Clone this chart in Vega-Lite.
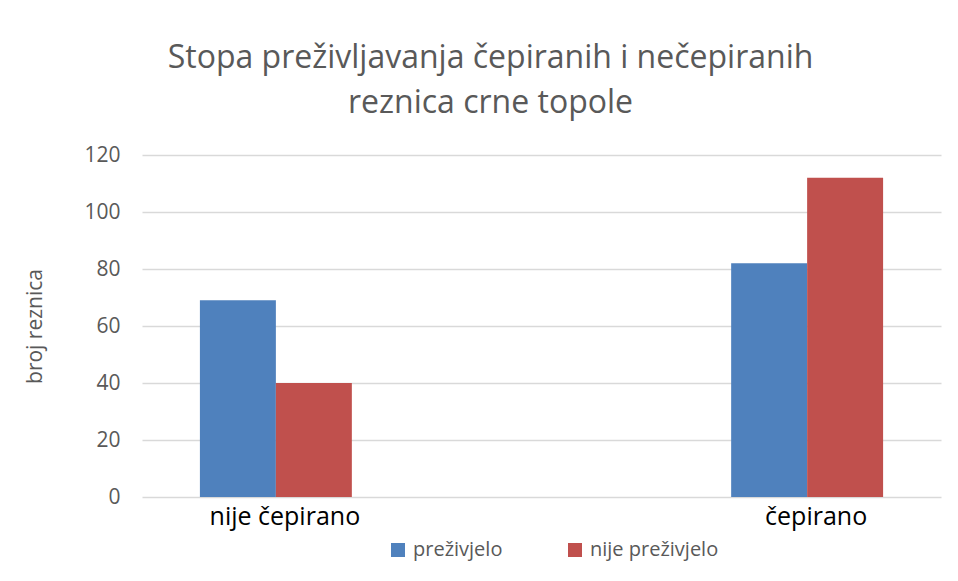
{
  "$schema": "https://vega.github.io/schema/vega-lite/v6.json",
  "autosize": {"type": "none"},
  "width": 799,
  "height": 342,
  "padding": {"left": 142, "top": 155, "right": 17, "bottom": 84},
  "background": "white",
  "title": {
    "text": ["Stopa preživljavanja čepiranih i nečepiranih", "reznica crne topole"],
    "anchor": "middle",
    "frame": "group",
    "dx": -51,
    "offset": 24,
    "font": "Open Sans",
    "fontSize": 32,
    "fontWeight": "normal",
    "color": "#595959",
    "lineHeight": 45
  },
  "data": {
    "values": [
      {"kategorija": "nije čepirano", "status": "preživjelo", "broj": 69},
      {"kategorija": "nije čepirano", "status": "nije preživjelo", "broj": 40},
      {"kategorija": "čepirano", "status": "preživjelo", "broj": 82},
      {"kategorija": "čepirano", "status": "nije preživjelo", "broj": 112}
    ]
  },
  "mark": {"type": "bar"},
  "encoding": {
    "x": {
      "field": "kategorija",
      "type": "nominal",
      "sort": ["nije čepirano", "čepirano"],
      "scale": {"paddingInner": 0.714, "paddingOuter": 0.109},
      "axis": {
        "title": null,
        "domain": false,
        "ticks": false,
        "labelAngle": 0,
        "labelFont": "Open Sans",
        "labelFontSize": 25,
        "labelColor": "#000000",
        "labelPadding": 7,
        "labelOffset": 9
      }
    },
    "xOffset": {
      "field": "status",
      "type": "nominal",
      "sort": ["preživjelo", "nije preživjelo"],
      "scale": {"paddingInner": 0, "paddingOuter": 0}
    },
    "y": {
      "field": "broj",
      "type": "quantitative",
      "scale": {"domain": [0, 120]},
      "axis": {
        "title": "broj reznica",
        "titleFont": "Open Sans",
        "titleFontSize": 21,
        "titleFontWeight": "normal",
        "titleColor": "#595959",
        "titlePadding": 38,
        "values": [0, 20, 40, 60, 80, 100, 120],
        "domain": false,
        "ticks": false,
        "labelFont": "Open Sans",
        "labelFontSize": 21,
        "labelColor": "#595959",
        "labelPadding": 22,
        "grid": true,
        "gridColor": "#d9d9d9",
        "gridWidth": 1.3
      }
    },
    "color": {
      "field": "status",
      "type": "nominal",
      "scale": {"domain": ["preživjelo", "nije preživjelo"], "range": ["#4f81bd", "#c0504d"]},
      "legend": {
        "title": null,
        "orient": "none",
        "direction": "horizontal",
        "legendX": 246,
        "legendY": 385,
        "symbolType": "square",
        "symbolSize": 196,
        "symbolStrokeWidth": 0,
        "labelFont": "Open Sans",
        "labelFontSize": 20,
        "labelColor": "#595959",
        "labelOffset": 5,
        "columnPadding": 62
      }
    }
  },
  "config": {
    "view": {"stroke": null}
  }
}
